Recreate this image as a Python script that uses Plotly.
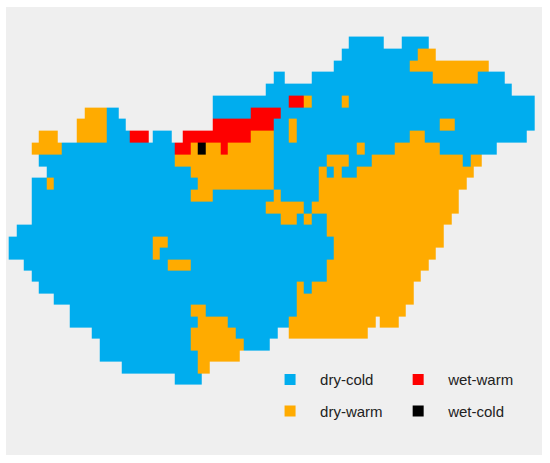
import plotly.graph_objects as go

# climate classes of the grid cells
classes = ["dry-cold", "dry-warm", "wet-warm", "wet-cold"]
class_colors = ["#00ADEE", "#FFAB00", "#FE0000", "#000000"]
codes = {"b": 0, "o": 1, "r": 2, "k": 3}

# one string per grid row (north to south), runs of half cells: class + from-to
rows = [
    "b90-99 b104-111",
    "b88-108 o108-113",
    "b86-106 o106-127",
    "b70-73 b80-112 o112-124 b124-131",
    "b68-133",
    "b54-74 r74-78 o78-80 b80-88 o88-90 b90-139",
    "o20-26 b26-29 b54-64 r64-72 b72-139",
    "o18-26 b26-31 r54-70 b70-74 o74-76 b76-114 o114-118 b118-139",
    "o8-13 o18-26 b26-32 r32-37 b38-43 r46-64 o64-70 b70-74 o74-76 b76-106 o106-110 b110-137",
    "o6-14 b14-44 r44-48 o48-50 k50-52 o52-56 r56-58 o58-70 b70-92 o92-94 b94-102 o102-114 b114-129",
    "b8-44 o44-70 b70-84 o84-90 b90-96 o96-120 b120-122 o122-125",
    "b10-48 o48-70 b70-82 o82-84 b84-86 o86-88 b88-92 o92-123",
    "b6-10 o10-12 b12-50 o50-70 b70-82 o82-121",
    "b6-48 o48-54 b54-70 o70-72 b72-82 o82-119",
    "b6-68 o68-78 b78-80 o80-119",
    "b6-72 o72-76 b76-78 o78-80 b80-84 o84-117",
    "b2-84 o84-115",
    "b0-38 o38-42 b42-86 o86-115",
    "b0-38 o38-40 b40-86 o86-113",
    "b4-42 o42-48 b48-84 o84-111",
    "b6-84 o84-109",
    "b8-76 o76-78 b78-80 o80-107",
    "b12-76 o76-107",
    "b16-48 o48-52 b52-76 o76-105",
    "b16-50 o50-58 b58-74 o74-97 o98-103",
    "b22-48 o48-60 b60-71 o74-95",
    "b24-48 o48-62 b62-69",
    "b24-50 o50-61",
    "b30-50 o50-53",
    "b44-51",
]
n_cols = 139

# expand the runs into the heatmap matrix
z = []
for row in rows:
    line = [None] * n_cols
    for run in row.split():
        start, end = run[1:].split("-")
        for i in range(int(start), int(end)):
            line[i] = codes[run[0]]
    z.append(line)

# the scan is a little stretched in its upper half
row_y = [r * 1.0165 if r <= 15 else 15.25 + (r - 15) * 0.9836 for r in range(len(rows))]

colorscale = []
for i, c in enumerate(class_colors):
    colorscale.append([i / 4, c])
    colorscale.append([(i + 1) / 4, c])

fig = go.Figure()
fig.add_trace(go.Heatmap(
    z=z,
    x=list(range(n_cols)),
    y=row_y,
    colorscale=colorscale,
    zmin=-0.5,
    zmax=3.5,
    showscale=False,
    hoverongaps=False,
))

# legend swatches, two columns
legend_of = {"dry-cold": "legend", "dry-warm": "legend", "wet-warm": "legend2", "wet-cold": "legend2"}
for name, color in zip(classes, class_colors):
    fig.add_trace(go.Scatter(
        x=[None],
        y=[None],
        mode="markers",
        name=name,
        legend=legend_of[name],
        legendgroup=name,
        marker=dict(symbol="square", size=11, color=color),
    ))

legend_style = dict(
    bgcolor="rgba(0,0,0,0)",
    font=dict(family="Liberation Sans", size=15, color="#222222"),
    itemwidth=50,
    tracegroupgap=9,
    traceorder="grouped",
    xanchor="left",
    yanchor="top",
    itemclick=False,
)

fig.update_layout(
    width=550,
    height=463,
    autosize=False,
    margin=dict(l=6, r=8, t=7, b=8),
    paper_bgcolor="white",
    plot_bgcolor="#EFEFEF",
    showlegend=True,
    legend=dict(x=0.474, y=0.205, **legend_style),
    legend2=dict(x=0.713, y=0.205, **legend_style),
    xaxis=dict(range=[-1.21, 140.47], visible=False, fixedrange=True),
    yaxis=dict(range=[35.59, -3.06], visible=False, fixedrange=True),
)

# page margin off so the figure starts in the corner of the window
fig.write_html(
    "out.html",
    config={"displayModeBar": False},
    post_script="document.body.style.margin = '0';",
)
